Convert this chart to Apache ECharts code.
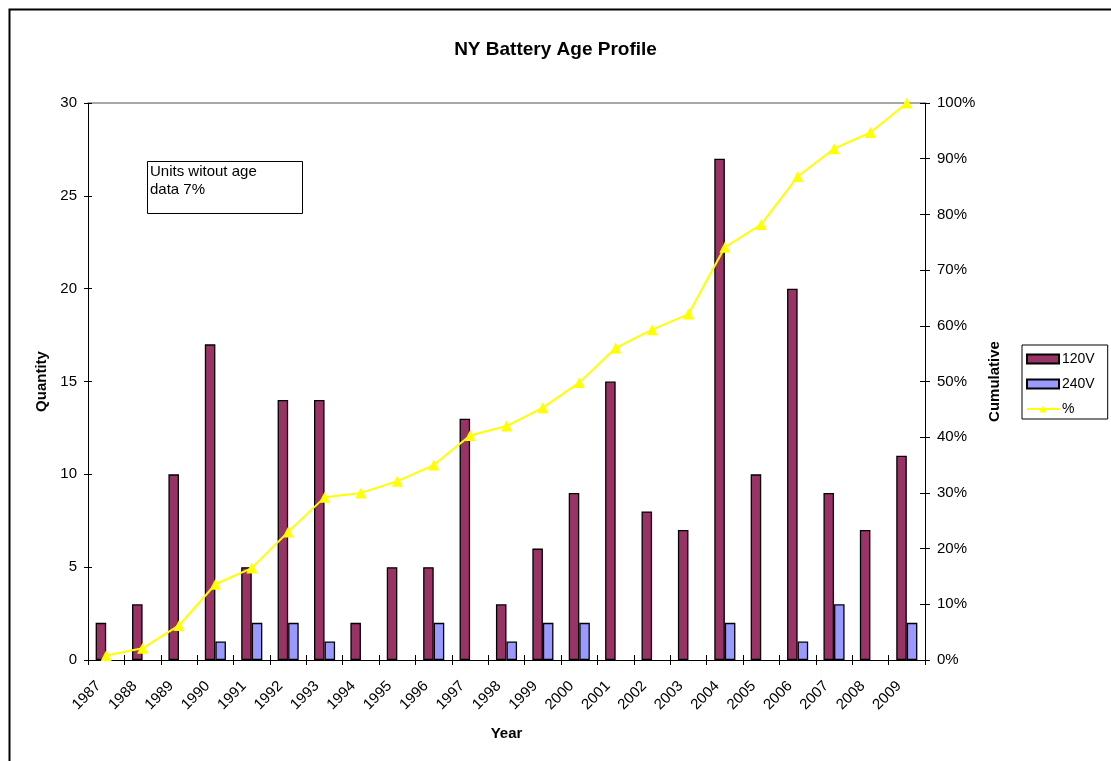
<!DOCTYPE html>
<html lang="en">
<head>
  <meta charset="UTF-8">
  <title>NY Battery Age Profile</title>
  <style>
    html, body { margin: 0; padding: 0; background: #fff; }
  </style>
</head>
<body>
  <div id="main" style="width: 1111px;height:761px;"></div>
  <script src="https://cdn.jsdelivr.net/npm/echarts@6/dist/echarts.min.js"></script>
  <script type="text/javascript">
    // data
    var years = ['1987', '1988', '1989', '1990', '1991', '1992', '1993', '1994', '1995', '1996', '1997', '1998',
      '1999', '2000', '2001', '2002', '2003', '2004', '2005', '2006', '2007', '2008', '2009'];
    var v120 = [2, 3, 10, 17, 5, 14, 14, 2, 5, 5, 13, 3, 6, 9, 15, 8, 7, 27, 10, 20, 9, 7, 11];
    var v240 = [0, 0, 0, 1, 2, 2, 1, 0, 0, 2, 0, 1, 2, 2, 0, 0, 0, 2, 0, 1, 3, 0, 2];
    var cumPct = [0.8, 2.1, 6.2, 13.6, 16.5, 23.0, 29.2, 30.0, 32.1, 35.0, 40.3, 42.0, 45.3, 49.8, 56.0,
      59.3, 62.1, 74.1, 78.2, 86.8, 91.8, 94.7, 100];

    var font = 'Liberation Sans, Arial, sans-serif';
    var myChart = echarts.init(document.getElementById('main'));

    // zero-height bars are not drawn in the original (no border stub)
    function noZero(arr) {
      return arr.map(function (v) { return v === 0 ? '-' : v; });
    }

    var option = {
      animation: false,
      backgroundColor: '#fff',
      textStyle: { fontFamily: font, color: '#000' },
      title: {
        text: 'NY Battery Age Profile',
        left: 'center',
        top: 35,
        textStyle: { fontFamily: font, fontSize: 19, fontWeight: 'bold', color: '#000' }
      },
      legend: {
        orient: 'vertical',
        left: 1022,
        top: 345,
        width: 86,
        padding: [7, 13, 3, 4],
        itemGap: 11,
        itemWidth: 32,
        itemHeight: 9,
        borderColor: '#000',
        borderWidth: 1,
        textStyle: { fontFamily: font, fontSize: 14, color: '#000', padding: [0, 0, 0, -2] },
        data: [
          { name: '120V', icon: 'rect' },
          { name: '240V', icon: 'rect' },
          { name: '%' }
        ]
      },
      grid: { left: 88, right: 186, top: 103, bottom: 101, containLabel: false },
      xAxis: [
        {
          type: 'category',
          data: years,
          name: 'Year',
          nameLocation: 'middle',
          nameGap: 66,
          nameTextStyle: { fontFamily: font, fontSize: 15, fontWeight: 'bold', color: '#000' },
          axisLine: { onZero: false, lineStyle: { color: '#000' } },
          axisTick: { show: true, length: 5, lineStyle: { color: '#000' } },
          axisLabel: { rotate: 45, fontSize: 15, color: '#000', fontFamily: font, margin: 16, padding: [0, 11, 0, 0] }
        },
        {
          // inner half of the crossing ticks
          type: 'category',
          data: years,
          position: 'bottom',
          axisLine: { show: false, onZero: false },
          axisTick: { show: true, inside: true, length: 5, lineStyle: { color: '#000' } },
          axisLabel: { show: false }
        },
        {
          // grey plot-area top edge
          type: 'category',
          data: years,
          position: 'top',
          axisLine: { show: true, onZero: false, lineStyle: { color: '#8c8c8c', width: 1.5 } },
          axisTick: { show: false },
          axisLabel: { show: false }
        }
      ],
      yAxis: [
        {
          type: 'value',
          min: 0,
          max: 30,
          interval: 5,
          name: 'Quantity',
          nameLocation: 'middle',
          nameGap: 38,
          nameTextStyle: { fontFamily: font, fontSize: 15, fontWeight: 'bold', color: '#000' },
          axisLine: { show: true, onZero: false, lineStyle: { color: '#000' } },
          axisTick: { show: true, length: 4, lineStyle: { color: '#000' } },
          axisLabel: { fontSize: 15, color: '#000', fontFamily: font, margin: 11 },
          splitLine: { show: false }
        },
        {
          type: 'value',
          min: 0,
          max: 100,
          interval: 10,
          position: 'right',
          name: 'Cumulative',
          nameLocation: 'middle',
          nameGap: 62,
          nameRotate: 90,
          nameTextStyle: { fontFamily: font, fontSize: 15, fontWeight: 'bold', color: '#000' },
          axisLine: { show: true, onZero: false, lineStyle: { color: '#000' } },
          axisTick: { show: true, length: 5, lineStyle: { color: '#000' } },
          axisLabel: { fontSize: 15, color: '#000', fontFamily: font, margin: 12, formatter: '{value}%' },
          splitLine: { show: false }
        },
        {
          type: 'value',
          min: 0,
          max: 30,
          interval: 5,
          position: 'left',
          axisLine: { show: false },
          axisTick: { show: true, inside: true, length: 4, lineStyle: { color: '#000' } },
          axisLabel: { show: false },
          splitLine: { show: false }
        },
        {
          type: 'value',
          min: 0,
          max: 100,
          interval: 10,
          position: 'right',
          axisLine: { show: false },
          axisTick: { show: true, inside: true, length: 5, lineStyle: { color: '#000' } },
          axisLabel: { show: false },
          splitLine: { show: false }
        }
      ],
      graphic: [
        {
          type: 'rect',
          left: 7,
          top: 7,
          shape: { width: 1200, height: 800 },
          style: { fill: 'none', stroke: '#000', lineWidth: 2 },
          silent: true
        },
        {
          type: 'rect',
          left: 147,
          top: 161,
          shape: { width: 155, height: 52 },
          style: { fill: '#fff', stroke: '#000', lineWidth: 1 },
          z: 10
        },
        {
          type: 'text',
          left: 150,
          top: 163,
          style: {
            text: 'Units witout age\ndata 7%',
            font: '15px Liberation Sans, Arial, sans-serif',
            fill: '#000',
            lineHeight: 18
          },
          z: 11
        }
      ],
      series: [
        {
          name: '120V',
          type: 'bar',
          barGap: '0%',
          barCategoryGap: '42%',
          itemStyle: { color: '#993366', borderColor: '#000', borderWidth: 1.3 },
          data: noZero(v120)
        },
        {
          name: '240V',
          type: 'bar',
          itemStyle: { color: '#9999ff', borderColor: '#000', borderWidth: 1.3 },
          data: noZero(v240)
        },
        {
          name: '%',
          type: 'line',
          yAxisIndex: 1,
          symbol: 'triangle',
          symbolSize: 11,
          lineStyle: { color: '#ffff00', width: 2 },
          itemStyle: { color: '#ffff00' },
          data: cumPct,
          z: 5
        }
      ]
    };

    myChart.setOption(option);
  </script>
</body>
</html>
